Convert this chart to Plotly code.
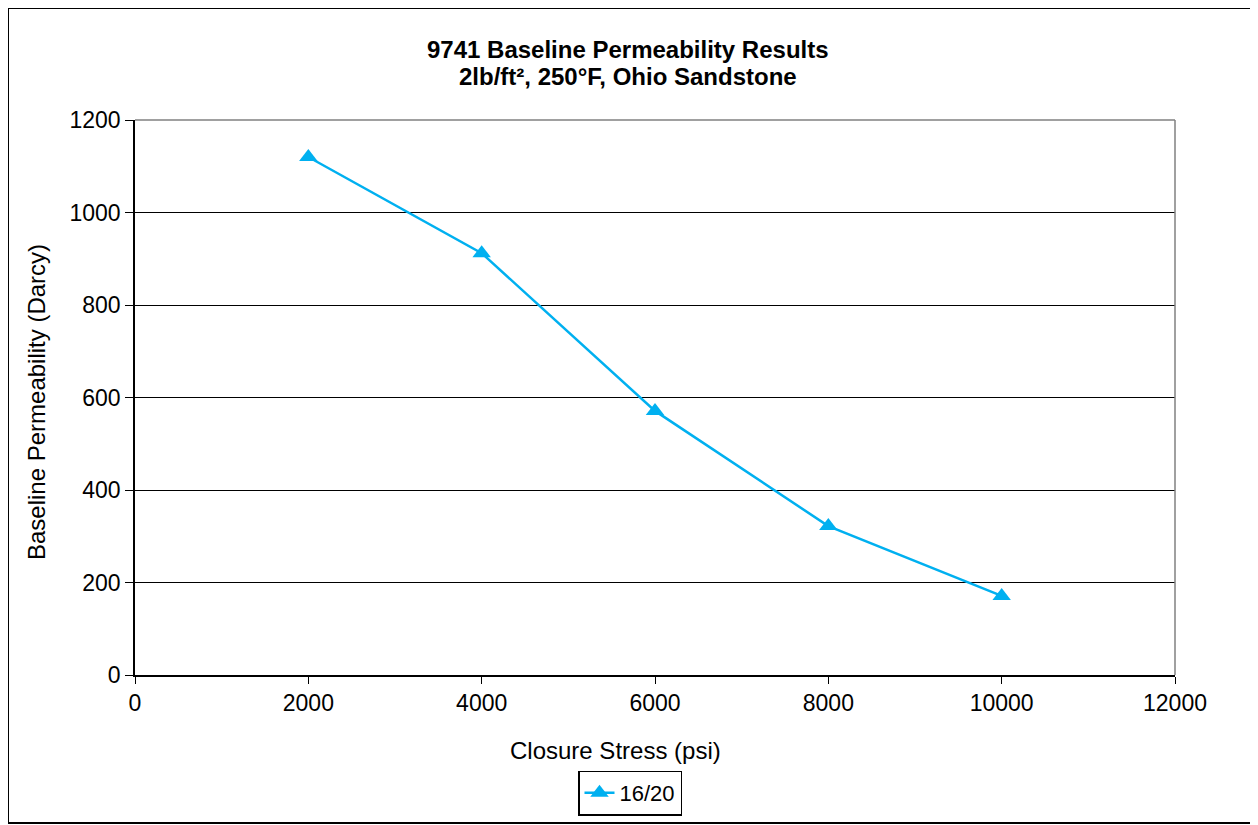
import plotly.graph_objects as go

closure_stress = [2000, 4000, 6000, 8000, 10000]
permeability = [1120, 912, 571, 322, 171]
series_name = "16/20"
title_lines = ["9741 Baseline Permeability Results", "2lb/ft², 250°F, Ohio Sandstone"]
x_title = "Closure Stress (psi)"
y_title = "Baseline Permeability (Darcy)"
x_ticks = [0, 2000, 4000, 6000, 8000, 10000, 12000]
y_ticks = [0, 200, 400, 600, 800, 1000, 1200]

OFF = 8  # page body margin
W, H = 1258 - OFF, 825 - OFF
# plot area in reference pixels: x 135..1175, y 120..675
L = 135 - OFF
T = 120 - OFF
R = W - (1175 - OFF)
B = H - (675 - OFF)
pw, ph = W - L - R, H - T - B

def px(xp):
    return (xp - OFF - L) / pw

def py(yp):
    return (H - B - (yp - OFF)) / ph

font = "Liberation Sans, Arial, sans-serif"

fig = go.Figure()
fig.add_trace(go.Scatter(
    x=closure_stress, y=permeability, name=series_name,
    mode="lines+markers",
    line=dict(color="#00B0F0", width=2.5),
    marker=dict(symbol="triangle-up", size=16, color="#00B0F0"),
))

title_annots = [
    dict(text="<b>" + line + "</b>", xref="paper", yref="paper",
         x=px(628), y=py(yc), showarrow=False,
         xanchor="center", yanchor="middle",
         font=dict(family=font, size=24, color="black"))
    for line, yc in zip(title_lines, [50, 77])
]

fig.update_layout(
    width=W, height=H,
    margin=dict(l=L, r=R, t=T, b=B, autoexpand=False),
    paper_bgcolor="white", plot_bgcolor="white",
    font=dict(family=font, size=23, color="black"),
    showlegend=True,
    legend=dict(orientation="h", xref="container", yref="container",
                x=(630 - OFF) / W, y=1 - (793 - OFF) / H,
                xanchor="center", yanchor="middle",
                bordercolor="black", borderwidth=1.5, bgcolor="white",
                font=dict(family=font, size=22)),
    xaxis=dict(range=[0, 12000], tickvals=x_ticks,
               ticktext=[str(v) for v in x_ticks],
               showgrid=False, zeroline=False,
               showline=True, linecolor="black", linewidth=1.5,
               ticks="outside", ticklen=7, tickcolor="black",
               tickfont=dict(size=23)),
    yaxis=dict(range=[0, 1200], tickvals=y_ticks,
               ticktext=[str(v) for v in y_ticks],
               showgrid=True, gridcolor="black", gridwidth=1,
               zeroline=False,
               showline=True, linecolor="black", linewidth=1.5,
               ticks="outside", ticklen=8, tickcolor="black",
               tickfont=dict(size=23)),
    shapes=[
        dict(type="line", xref="paper", yref="paper", x0=0, x1=1, y0=1, y1=1,
             line=dict(color="#808080", width=1.5)),
        dict(type="line", xref="paper", yref="paper", x0=1, x1=1, y0=0, y1=1,
             line=dict(color="#808080", width=1.5)),
        dict(type="rect", xref="paper", yref="paper",
             x0=px(8), x1=px(1254), y0=py(823), y1=py(8),
             line=dict(color="black", width=2)),
    ],
    annotations=title_annots + [
        dict(text=x_title, xref="paper", yref="paper", x=px(615), y=py(750),
             showarrow=False, xanchor="center", yanchor="middle",
             font=dict(family=font, size=24)),
        dict(text=y_title, xref="paper", yref="paper", x=px(37), y=py(402),
             showarrow=False, xanchor="center", yanchor="middle", textangle=-90,
             font=dict(family=font, size=24)),
    ],
)

fig.write_html("out.html")
